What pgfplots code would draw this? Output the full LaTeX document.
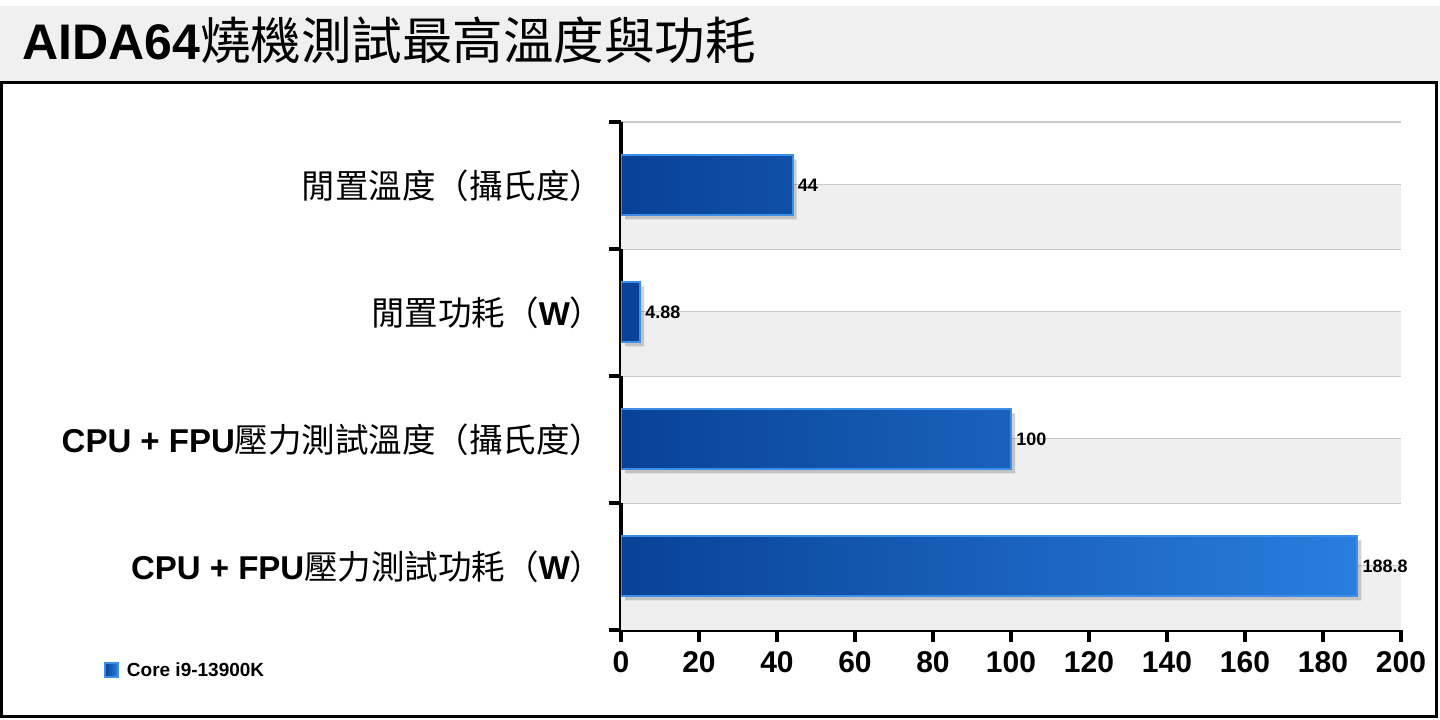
\documentclass[border=0pt]{standalone}
\usepackage{fontspec}
\setmainfont{Liberation Sans}
\newfontfamily\cjk{Noto Sans CJK TC}
\usepackage{pgfplots}
\pgfplotsset{compat=1.18}

\definecolor{barDark}{RGB}{8,66,150}
\definecolor{barLight}{RGB}{42,126,222}
\definecolor{barEdge}{RGB}{60,142,230}
\definecolor{bandGray}{RGB}{239,239,239}
\definecolor{gridGray}{RGB}{200,200,200}
\definecolor{titleGray}{RGB}{240,240,240}

\newcommand{\lat}{\fontsize{33}{36}\selectfont\bfseries}
\newcommand{\han}{\cjk\fontsize{33.5}{36}\selectfont}

\begin{document}
\begin{tikzpicture}[x=1pt,y=1pt]
\useasboundingbox (0,0) rectangle (1440,720);
\fill[white] (0,0) rectangle (1440,720);
\fill[titleGray] (0,637) rectangle (1440,714);
\draw[line width=3pt] (1.5,3) rectangle (1436.5,637);
\node[anchor=west, inner sep=0pt] at (22,680)
  {{\fontsize{50}{54}\selectfont\bfseries AIDA64}{\cjk\fontsize{50.5}{54}\selectfont 燒機測試最高溫度與功耗}};

\begin{axis}[
  at={(621pt,90pt)}, anchor=south west,
  scale only axis, width=780pt, height=508pt,
  xmin=0, xmax=200, ymin=-0.5, ymax=3.5,
  xtick={0,20,...,200},
  ytick={-0.5,0.5,1.5,2.5,3.5},
  yticklabels={},
  extra y ticks={0,1,2,3},
  extra y tick labels={
    {\lat CPU + FPU}{\han 壓力測試功耗（}{\lat W}{\han ）},
    {\lat CPU + FPU}{\han 壓力測試溫度（攝氏度）},
    {\han 閒置功耗（}{\lat W}{\han ）},
    {\han 閒置溫度（攝氏度）}},
  extra y tick style={major tick length=0pt},
  ymajorgrids,
  grid style={gridGray, line width=2pt},
  axis x line*=bottom, axis y line*=left,
  axis line style={line width=4.5pt, black, -},
  tick align=outside,
  major tick length=12pt,
  tick style={line width=4pt, black},
  /pgf/number format/assume math mode=true,
  xticklabel style={font=\fontsize{30}{30}\selectfont\bfseries, yshift=-6pt},
  yticklabel style={anchor=east, xshift=-14pt},
  legend style={at={(-0.667,-0.079)}, anchor=west, draw=none, fill=none,
    font=\fontsize{19}{20}\selectfont\bfseries,
    nodes={inner xsep=8pt}},
  legend image code/.code={
    \path[left color=barDark, right color=barLight] (0pt,-7pt) rectangle (13pt,7pt);},
]
\fill[bandGray] (axis cs:0,-0.5) rectangle (axis cs:200,0);
\fill[bandGray] (axis cs:0,0.5) rectangle (axis cs:200,1);
\fill[bandGray] (axis cs:0,1.5) rectangle (axis cs:200,2);
\fill[bandGray] (axis cs:0,2.5) rectangle (axis cs:200,3);

% soft shadow under the bars
\addplot[xbar, bar width=60pt, fill=black, fill opacity=0.18, draw=none,
  xshift=4pt, yshift=-4pt, forget plot]
coordinates {(188.8,0) (100,1) (4.88,2) (44,3)};

\addplot[xbar, bar width=60pt, left color=barDark, right color=barLight,
  draw=barEdge, line width=2pt,
  nodes near coords,
  nodes near coords style={font=\fontsize{18}{20}\selectfont\bfseries, text=black, anchor=west, xshift=1pt}]
coordinates {(188.8,0) (100,1) (4.88,2) (44,3)};
\addlegendentry{Core i9-13900K}
\end{axis}
\end{tikzpicture}
\end{document}
